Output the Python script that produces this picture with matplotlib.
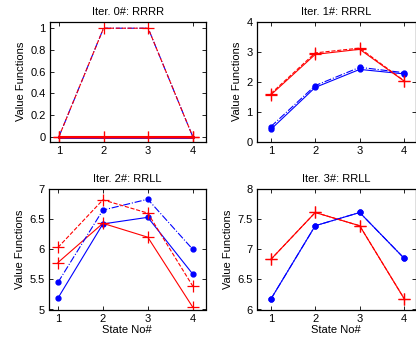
import matplotlib
matplotlib.use("Agg")
import matplotlib.pyplot as plt

plt.rcParams['font.family'] = ['Liberation Sans', 'DejaVu Sans']

states = [1, 2, 3, 4]
titles = ["Iter. 0#: RRRR", "Iter. 1#: RRRL", "Iter. 2#: RRLL", "Iter. 3#: RRLL"]

# solid lines (current policy) and dashed lines (next) for each action
blue_solid = [[0, 0, 0, 0],
              [0.41, 1.81, 2.41, 2.26],
              [5.19, 6.42, 6.53, 5.59],
              [6.17, 7.39, 7.61, 6.85]]
red_solid = [[0, 0, 0, 0],
             [1.56, 2.91, 3.08, 2.02],
             [5.78, 6.43, 6.20, 5.04],
             [6.83, 7.61, 7.39, 6.18]]
blue_dash = [[0, 1, 1, 0],
             [0.50, 1.87, 2.48, 2.30],
             [5.45, 6.65, 6.83, 6.00],
             [6.17, 7.39, 7.61, 6.85]]
red_dash = [[0, 1, 1, 0],
            [1.60, 2.96, 3.12, 2.03],
            [6.03, 6.82, 6.60, 5.39],
            [6.83, 7.61, 7.39, 6.18]]

ylims = [(-0.046, 1.06), (0, 4), (5, 7), (6, 8)]
yticks = [[0, 0.2, 0.4, 0.6, 0.8, 1], [0, 1, 2, 3, 4],
          [5, 5.5, 6, 6.5, 7], [6, 6.5, 7, 7.5, 8]]
yticklabels = [["0", "0.2", "0.4", "0.6", "0.8", "1"], ["0", "1", "2", "3", "4"],
               ["5", "5.5", "6", "6.5", "7"], ["6", "6.5", "7", "7.5", "8"]]

W, H = 416, 341
boxes = [(50, 21.7, 205.7, 141.7), (257, 21.7, 415.7, 141.7),
         (49, 189, 205.7, 309.5), (257, 189, 415.7, 309.5)]
xlims = [(0.8, 4.29), (0.69, 4.26), (0.8, 4.29), (0.69, 4.26)]

fig = plt.figure(figsize=(W / 100, H / 100), dpi=100)

for i in range(4):
    x0, y0, x1, y1 = boxes[i]
    ax = fig.add_axes([x0 / W, 1 - y1 / H, (x1 - x0) / W, (y1 - y0) / H])
    bm = None if i == 0 else "o"
    ax.plot(states, blue_solid[i], "-", color="blue", lw=0.8 if i else 2.0,
            marker=bm, ms=3.5)
    ax.plot(states, red_solid[i], "-", color="red", lw=0.8 if i else 2.0,
            marker="+", ms=9, mew=0.9, alpha=1 if i else 0.5)
    if i == 0:
        ax.plot(states, red_solid[i], "none", color="red", marker="+", ms=9, mew=0.9)
    ax.plot(states, blue_dash[i], "-.", color="blue", lw=0.8, marker=bm, ms=3.5)
    ax.plot(states, red_dash[i], "--", color="red", lw=0.8, marker="+", ms=9, mew=0.9)

    ax.set_xlim(xlims[i])
    ax.set_ylim(ylims[i])
    ax.set_xticks(states)
    ax.set_yticks(yticks[i])
    ax.set_yticklabels(yticklabels[i])
    ax.tick_params(direction="in", length=3, width=0.6, labelsize=8,
                   top=True, right=True, pad=3)
    for s in ax.spines.values():
        s.set_linewidth(0.9)
    ax.set_title(titles[i], fontsize=8, pad=5)
    ax.set_ylabel("Value Functions", fontsize=8, labelpad=3)
    if i >= 2:
        ax.set_xlabel("State No#", fontsize=8, labelpad=1)

fig.savefig("out.png", dpi=100)
